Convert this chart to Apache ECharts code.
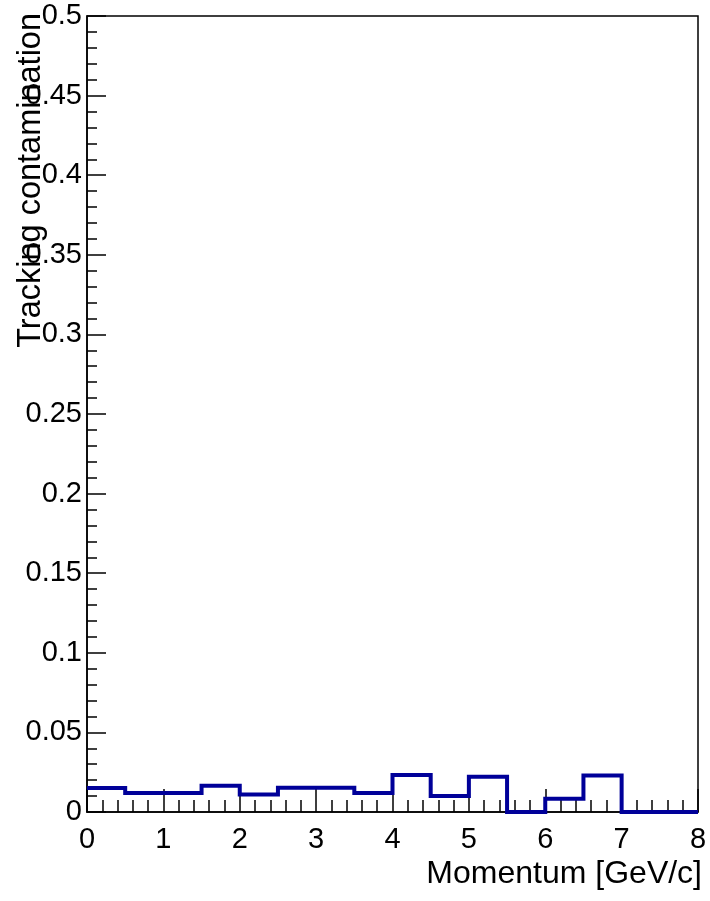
<!DOCTYPE html>
<html>
<head>
<meta charset="utf-8">
<script src="https://cdn.jsdelivr.net/npm/echarts@6/dist/echarts.min.js"></script>
<style>
  html, body { margin: 0; padding: 0; background: #fff; }
  #chart { width: 710px; height: 901px; }
</style>
</head>
<body>
<div id="chart"></div>
<script>
// Histogram bin edges in momentum (GeV/c) and the contamination per bin
const binEdges = [0, 0.5, 1, 1.5, 2, 2.5, 3, 3.5, 4, 4.5, 5, 5.5, 6, 6.5, 7, 7.5, 8];
const contamination = [0.015, 0.012, 0.012, 0.0165, 0.011, 0.0153, 0.0153, 0.012,
                       0.0232, 0.010, 0.0222, 0, 0.0084, 0.023, 0, 0];
const xTicks = [0, 1, 2, 3, 4, 5, 6, 7, 8];
const yTicks = [0, 0.05, 0.1, 0.15, 0.2, 0.25, 0.3, 0.35, 0.4, 0.45, 0.5];
const yTitle = 'Tracking contamination';

// Step outline: each bin's lower edge carries its value, the last edge closes the final bin
const stepData = binEdges.map((edge, i) =>
  [edge, i < contamination.length ? contamination[i] : contamination[contamination.length - 1]]);

const font = '"Liberation Sans", Arial, Helvetica, sans-serif';

const chart = echarts.init(document.getElementById('chart'), null, { renderer: 'canvas' });
chart.setOption({
  animation: false,
  backgroundColor: '#ffffff',
  grid: {
    left: 87, right: 12, top: 16, bottom: 89,
    containLabel: false,
    outerBoundsMode: 'none',
    show: true, borderColor: '#000', borderWidth: 1.5, backgroundColor: 'transparent'
  },
  // Y title sits at the top end of the axis, reading bottom-to-top
  graphic: [{
    type: 'text',
    x: 31,
    y: 13,
    rotation: Math.PI / 2,
    z: 100,
    style: {
      text: yTitle,
      fontFamily: font,
      fontSize: 32.5,
      fill: '#000',
      align: 'right',
      verticalAlign: 'middle'
    }
  }],
  xAxis: {
    type: 'value',
    min: xTicks[0], max: xTicks[xTicks.length - 1], interval: 1,
    name: 'Momentum [GeV/c]',
    nameLocation: 'end',
    nameGap: 4,
    nameMoveOverlap: false,
    nameTextStyle: {
      fontFamily: font, fontSize: 32, color: '#000',
      align: 'right', verticalAlign: 'top', padding: [46, 0, 0, 0]
    },
    axisLine: { show: true, onZero: false, lineStyle: { color: '#000', width: 1.5 } },
    axisTick: { show: true, inside: true, length: 23, lineStyle: { color: '#000', width: 1.5 } },
    minorTick: { show: true, splitNumber: 5, length: 12, lineStyle: { color: '#000', width: 1.5 } },
    axisLabel: {
      fontFamily: font, fontSize: 29, color: '#000', margin: 13,
      showMinLabel: true, showMaxLabel: true,
      formatter: v => String(v)
    },
    splitLine: { show: false }
  },
  yAxis: {
    type: 'value',
    min: yTicks[0], max: yTicks[yTicks.length - 1], interval: 0.05,
    axisLine: { show: true, onZero: false, lineStyle: { color: '#000', width: 1.5 } },
    axisTick: { show: true, inside: true, length: 19, lineStyle: { color: '#000', width: 1.5 } },
    minorTick: { show: true, splitNumber: 5, length: 10, lineStyle: { color: '#000', width: 1.5 } },
    axisLabel: {
      fontFamily: font, fontSize: 29, color: '#000', margin: 5,
      showMinLabel: true, showMaxLabel: true,
      formatter: v => String(Math.round(v * 100) / 100)
    },
    splitLine: { show: false }
  },
  series: [{
    type: 'line',
    step: 'end',
    data: stepData,
    symbol: 'none',
    clip: false,
    lineStyle: { color: '#000099', width: 4, join: 'miter', cap: 'butt' }
  }]
});
</script>
</body>
</html>
